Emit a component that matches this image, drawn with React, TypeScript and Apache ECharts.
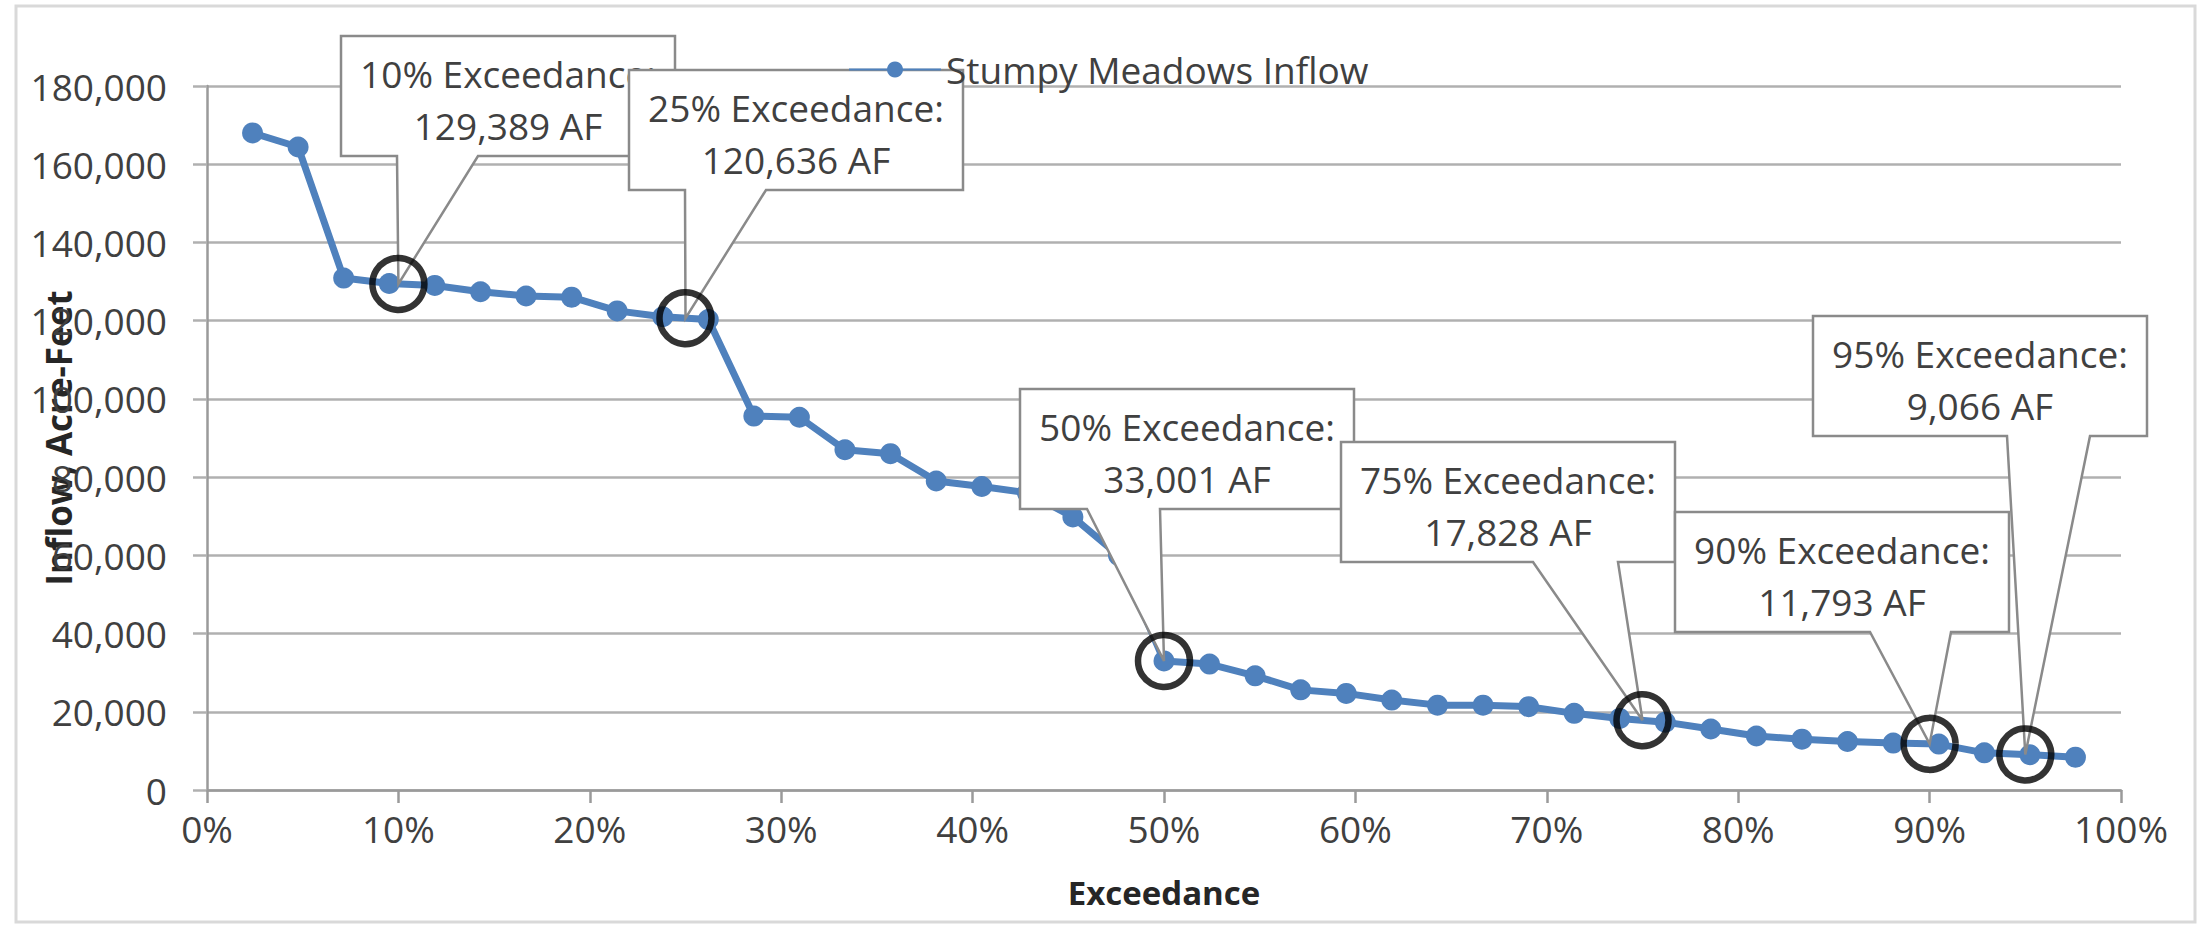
import React, { useEffect, useRef } from "react";
import * as echarts from "echarts";

const SERIES_NAME = "Stumpy Meadows Inflow";

// Exceedance probability (%) of each ranked year
const exceedance = [
  2.38, 4.76, 7.14, 9.52, 11.9, 14.29, 16.67, 19.05, 21.43, 23.81, 26.19, 28.57, 30.95, 33.33,
  35.71, 38.1, 40.48, 42.86, 45.24, 47.62, 50, 52.38, 54.76, 57.14, 59.52, 61.9, 64.29, 66.67,
  69.05, 71.43, 73.81, 76.19, 78.57, 80.95, 83.33, 85.71, 88.1, 90.48, 92.86, 95.24, 97.62,
];

// Inflow (acre-feet)
const inflow = [
  168000, 164400, 130900, 129500, 129000, 127400, 126300, 126000, 122500, 121000, 120270, 95600,
  95300, 87000, 86000, 79000, 77600, 76000, 69800, 60000, 33001, 32200, 29200, 25600, 24700,
  23000, 21700, 21700, 21300, 19600, 18300, 17350, 15600, 13800, 13000, 12400, 12000, 11740,
  9500, 9020, 8400,
];

// Highlighted exceedance levels
const calloutPct = [10, 25, 50, 75, 90, 95];
const calloutVal = [129389, 120636, 33001, 17828, 11793, 9066];

// Layout of callout boxes (pixels): box left, top, wedge base left/right
const calloutLayout = [
  { x: 341, y: 36, bl: 397, br: 478 },
  { x: 629, y: 70, bl: 685, br: 766 },
  { x: 1020, y: 389, bl: 1087, br: 1160 },
  { x: 1341, y: 442, bl: 1533, br: 1618 },
  { x: 1675, y: 512, bl: 1870, br: 1951 },
  { x: 1813, y: 316, bl: 2007, br: 2090 },
];
const BOX_W = 334;
const BOX_H = 120;

const FONT = "Open Sans";
const TEXT_COLOR = "#404040";

export default function App() {
  const ref = useRef<HTMLDivElement>(null);

  useEffect(() => {
    document.body.style.margin = "0";
    if (!ref.current) return;
    const chart = echarts.init(ref.current, undefined, { renderer: "svg" });

    const axisGray = "#9a9a9a";
    const option: any = {
      animation: false,
      backgroundColor: "#ffffff",
      textStyle: { fontFamily: FONT },
      grid: {
        left: 207,
        right: 82,
        top: 86,
        bottom: 138,
        containLabel: false,
        outerBoundsMode: "none",
      },
      legend: {
        data: [SERIES_NAME],
        left: 848,
        top: 51,
        padding: 0,
        itemWidth: 92,
        itemHeight: 20,
        itemGap: 0,
        z: 30,
        textStyle: { fontSize: 37, color: TEXT_COLOR, fontFamily: FONT },
      },
      xAxis: {
        type: "value",
        min: 0,
        max: 100,
        interval: 10,
        axisLine: { show: true, lineStyle: { color: axisGray, width: 2.5 } },
        axisTick: { show: true, length: 13, lineStyle: { color: axisGray, width: 2.5 } },
        splitLine: { show: false },
        axisLabel: {
          formatter: "{value}%",
          fontSize: 37,
          color: TEXT_COLOR,
          fontFamily: FONT,
          margin: 20,
        },
        name: "Exceedance",
        nameLocation: "middle",
        nameGap: 86,
        nameTextStyle: { fontSize: 33, fontWeight: "bold", color: "#262626", fontFamily: FONT },
      },
      yAxis: {
        type: "value",
        min: 0,
        max: 180000,
        interval: 20000,
        axisLine: { show: true, lineStyle: { color: axisGray, width: 2.5 } },
        axisTick: { show: true, length: 14, lineStyle: { color: "#b0b0b0", width: 2.5 } },
        splitLine: { show: true, lineStyle: { color: "#b0b0b0", width: 2.5 } },
        axisLabel: {
          formatter: (v: number) => v.toLocaleString("en-US"),
          fontSize: 37,
          color: TEXT_COLOR,
          fontFamily: FONT,
          margin: 40,
        },
        name: "Inflow, Acre-Feet",
        nameLocation: "middle",
        nameRotate: 90,
        nameGap: 131,
        nameMoveOverlap: false,
        nameTextStyle: { fontSize: 35, fontWeight: "bold", color: "#262626", fontFamily: FONT },
      },
      series: [
        {
          type: "line",
          name: SERIES_NAME,
          data: exceedance.map((x, i) => [x, inflow[i]]),
          symbol: "circle",
          symbolSize: 21,
          showAllSymbol: true,
          lineStyle: { color: "#4f81bd", width: 7 },
          itemStyle: { color: "#4f81bd" },
          z: 2,
        },
        {
          type: "scatter",
          name: "",
          data: calloutPct.map((p, i) => [p, calloutVal[i]]),
          symbol: "circle",
          symbolSize: 52,
          itemStyle: { color: "rgba(0,0,0,0)", borderColor: "#000000", borderWidth: 6.5 },
          z: 20,
          silent: true,
        },
      ],
    };
    chart.setOption(option);

    const elements: any[] = [
      {
        type: "rect",
        shape: { x: 16, y: 6, width: 2179, height: 916 },
        style: { fill: "none", stroke: "#d9d9d9", lineWidth: 3 },
        z: 0,
        silent: true,
      },
    ];
    calloutPct.forEach((p, i) => {
      const tip = chart.convertToPixel({ gridIndex: 0 }, [p, calloutVal[i]]) as number[];
      const L = calloutLayout[i];
      const x0 = L.x;
      const y0 = L.y;
      const x1 = x0 + BOX_W;
      const y1 = y0 + BOX_H;
      elements.push({
        type: "polygon",
        shape: {
          points: [
            [x0, y0],
            [x1, y0],
            [x1, y1],
            [L.br, y1],
            [tip[0], tip[1]],
            [L.bl, y1],
            [x0, y1],
          ],
        },
        style: { fill: "#ffffff", stroke: "#8a8a8a", lineWidth: 2.5 },
        z: 5 + i,
        silent: true,
      });
      const cx = x0 + BOX_W / 2;
      elements.push({
        type: "text",
        x: cx,
        y: y0 + 37,
        style: {
          text: `${p}% Exceedance:`,
          fontSize: 37,
          fontFamily: FONT,
          fill: TEXT_COLOR,
          align: "center",
          verticalAlign: "middle",
        },
        z: 5.5 + i,
        silent: true,
      });
      elements.push({
        type: "text",
        x: cx,
        y: y0 + 89,
        style: {
          text: `${calloutVal[i].toLocaleString("en-US")} AF`,
          fontSize: 37,
          fontFamily: FONT,
          fill: TEXT_COLOR,
          align: "center",
          verticalAlign: "middle",
        },
        z: 5.5 + i,
        silent: true,
      });
    });
    chart.setOption({ graphic: { elements } });

    return () => {
      chart.dispose();
    };
  }, []);

  return <div ref={ref} style={{ width: 2203, height: 928 }} />;
}
